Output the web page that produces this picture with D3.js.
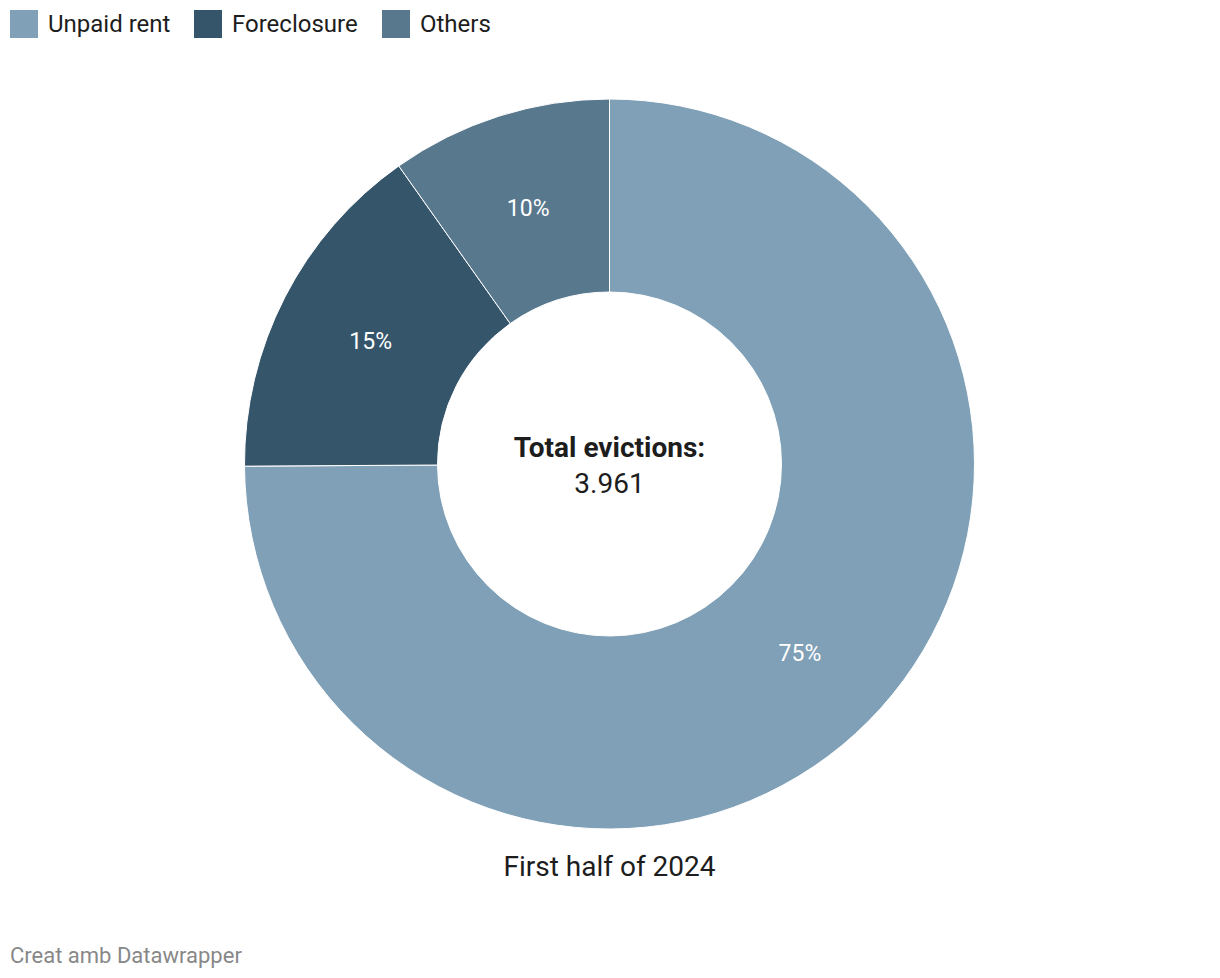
<!DOCTYPE html>
<html>
<head>
<meta charset="utf-8">
<script src="https://cdn.jsdelivr.net/npm/d3@7"></script>
<style>
  body { margin: 0; background: #fff; font-family: Roboto, "Noto Sans", sans-serif; }
</style>
</head>
<body>
<div id="chart"></div>
<script>
// Datos del gráfico (desahucios estimados por causa)
const categories = ["Unpaid rent", "Foreclosure", "Others"];
const evictions = [2967, 606, 388];
const colors = ["#7fa0b6", "#35556b", "#58788e"];
const totalLabel = "Total evictions:";
const totalValue = "3.961";
const periodLabel = "First half of 2024";

const width = 1220;
const height = 978;
const cx = 609.5, cy = 464;
const outerR = 365, innerR = 172;

const svg = d3.select("#chart")
              .append("svg")
              .attr("width", width)
              .attr("height", height);

// Leyenda
const legendX = [10, 194, 382];
const legend = svg.selectAll("g.legend")
                  .data(categories)
                  .enter()
                  .append("g")
                  .attr("transform", (d, i) => `translate(${legendX[i]},10)`);
legend.append("rect")
      .attr("width", 28)
      .attr("height", 28)
      .attr("fill", (d, i) => colors[i]);
legend.append("text")
      .attr("x", 38)
      .attr("y", 14)
      .attr("dy", "0.35em")
      .attr("font-size", 24)
      .attr("fill", "#1d1d1d")
      .text(d => d);

// Donut
const total = d3.sum(evictions);
const pie = d3.pie().sort(null).value(d => d);
const arc = d3.arc().innerRadius(innerR).outerRadius(outerR);
const labelArc = d3.arc().innerRadius((innerR + outerR) / 2).outerRadius((innerR + outerR) / 2);

const g = svg.append("g").attr("transform", `translate(${cx},${cy})`);
const arcs = pie(evictions);

g.selectAll("path")
 .data(arcs)
 .enter()
 .append("path")
 .attr("d", arc)
 .attr("fill", (d, i) => colors[i])
 .attr("stroke", "#fff")
 .attr("stroke-width", 1);

g.selectAll("text.pct")
 .data(arcs)
 .enter()
 .append("text")
 .attr("class", "pct")
 .attr("transform", d => `translate(${labelArc.centroid(d)})`)
 .attr("text-anchor", "middle")
 .attr("dy", "0.35em")
 .attr("font-size", 23)
 .attr("fill", "#fff")
 .text(d => Math.round(d.data / total * 100) + "%");

// Texto central
g.append("text")
 .attr("text-anchor", "middle")
 .attr("y", -17)
 .attr("dy", "0.35em")
 .attr("font-size", 28)
 .attr("font-weight", "bold")
 .attr("fill", "#1d1d1d")
 .text(totalLabel);
g.append("text")
 .attr("text-anchor", "middle")
 .attr("y", 19)
 .attr("dy", "0.35em")
 .attr("font-size", 28)
 .attr("fill", "#1d1d1d")
 .text(totalValue);

svg.append("text")
   .attr("x", cx)
   .attr("y", 866)
   .attr("dy", "0.35em")
   .attr("text-anchor", "middle")
   .attr("font-size", 28)
   .attr("fill", "#1d1d1d")
   .text(periodLabel);

svg.append("text")
   .attr("x", 10)
   .attr("y", 955)
   .attr("dy", "0.35em")
   .attr("font-size", 22)
   .attr("fill", "#888")
   .text("Creat amb Datawrapper");
</script>
</body>
</html>
